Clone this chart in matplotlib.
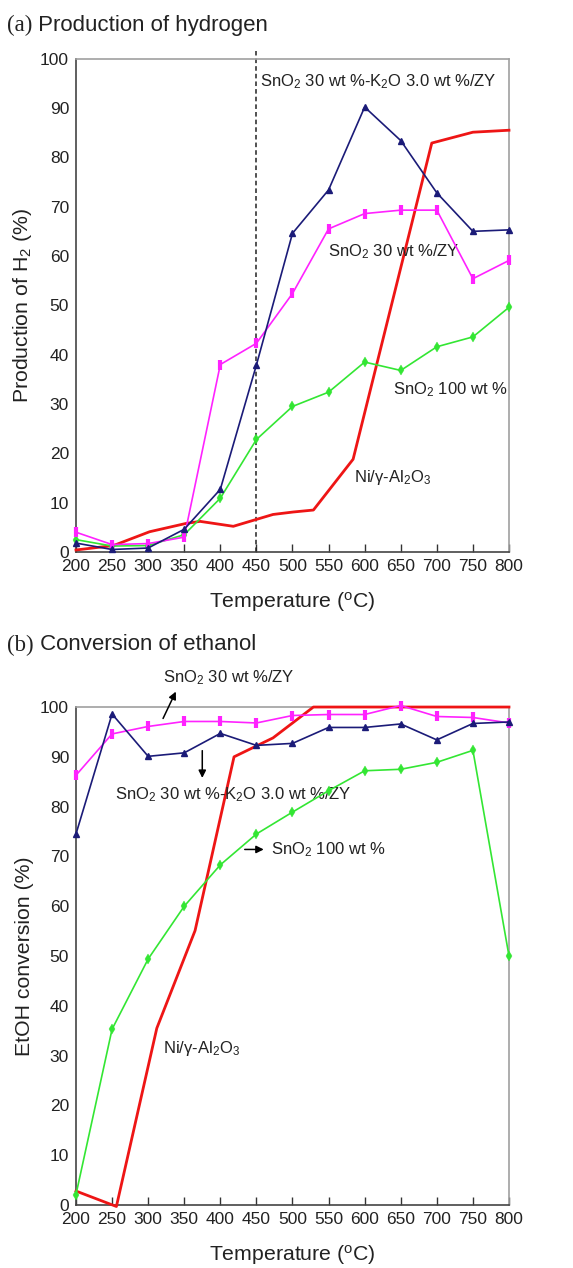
import numpy as np
import matplotlib
matplotlib.use("Agg")
import matplotlib.pyplot as plt

plt.rcParams['font.family'] = ['Liberation Sans', 'DejaVu Sans']
plt.rcParams['mathtext.fontset'] = 'custom'
plt.rcParams['mathtext.rm'] = 'Liberation Sans'
plt.rcParams['mathtext.it'] = 'Liberation Sans:italic'

temp = [200, 250, 300, 350, 400, 450, 500, 550, 600, 650, 700, 750, 800]

# (a) production of hydrogen
h2_k2o = [1.8, 0.5, 0.8, 4.6, 12.7, 37.9, 64.6, 73.4, 90.2, 83.4, 72.8, 65.0, 65.3]
h2_sno2_zy = [4.0, 1.5, 1.7, 3.0, 38.0, 42.3, 52.4, 65.5, 68.6, 69.3, 69.3, 55.4, 59.1]
h2_sno2 = [2.5, 1.2, 1.3, 3.5, 10.9, 22.8, 29.5, 32.4, 38.5, 36.8, 41.6, 43.6, 49.6]
ni_temp_a = [200, 252, 302, 353, 372, 418, 450, 473, 501, 529, 584, 693, 750, 800]
h2_ni = [0.4, 1.3, 4.1, 5.8, 6.2, 5.2, 6.6, 7.6, 8.1, 8.5, 18.8, 82.9, 85.1, 85.5]

# (b) conversion of ethanol
conv_k2o = [74.5, 98.6, 90.1, 90.8, 94.7, 92.3, 92.7, 95.9, 95.9, 96.6, 93.4, 96.7, 97.0]
conv_sno2_zy = [86.3, 94.6, 96.1, 97.1, 97.1, 96.8, 98.3, 98.5, 98.5, 100.3, 98.1, 97.9, 96.8]
conv_sno2 = [2.1, 35.3, 49.4, 60.0, 68.3, 74.5, 78.9, 83.2, 87.2, 87.5, 88.9, 91.3, 50.0]
ni_temp_b = [200, 256, 312, 365, 419, 473, 529, 800]
conv_ni = [2.8, -0.3, 35.5, 55.1, 90.0, 93.8, 100.0, 100.0]

NAVY = '#1b1b78'
MAGENTA = '#ff22ff'
GREEN = '#33e633'
RED = '#ee1515'

fig = plt.figure(figsize=(5.73, 12.68), dpi=100)
ax1 = fig.add_axes([0.1326, 0.5647, 0.7557, 0.389])
ax2 = fig.add_axes([0.1326, 0.0497, 0.7557, 0.3927])


def style(ax, ylabel):
    ax.set_xlim(200, 800)
    ax.set_ylim(0, 100)
    ax.set_xticks(np.arange(200, 801, 50))
    ax.set_yticks(np.arange(0, 101, 10))
    ax.tick_params(axis='x', direction='in', length=6, width=1, colors='#333333',
                   labelsize=12.5, pad=5, labelcolor='#222222')
    ax.tick_params(axis='y', direction='in', length=0, labelsize=12.5, pad=5,
                   labelcolor='#222222')
    for s in ['left', 'bottom']:
        ax.spines[s].set_color('#444444')
        ax.spines[s].set_linewidth(1.2)
    for s in ['top', 'right']:
        ax.spines[s].set_color('#a0a0a0')
        ax.spines[s].set_linewidth(1.2)
    ax.set_xlabel('Temperature ($^{\\rm o}$C)', fontsize=15.3, labelpad=11.5, color='#222222')
    ax.set_ylabel(ylabel, fontsize=15.3, labelpad=4.5, color='#222222')


def series(ax, k2o, zy, sno2, ni_t, ni):
    ax.plot(ni_t, ni, color=RED, lw=2.0, clip_on=False, zorder=3)
    ax.plot(temp, sno2, color=GREEN, lw=1.2, marker='d', ms=5, mew=0.3,
            mfc=GREEN, mec=GREEN, clip_on=False, zorder=4)
    ax.plot(temp, zy, color=MAGENTA, lw=1.2, marker='|', ms=7, mew=3.0,
            mec=MAGENTA, clip_on=False, zorder=5)
    ax.plot(temp, k2o, color=NAVY, lw=1.2, marker='^', ms=4.5, mfc=NAVY, mec=NAVY,
            clip_on=False, zorder=6)


def title(y, tag, text):
    t = fig.text(0.012, y, tag, family='Liberation Serif', fontsize=16.5,
                 va='center', color='#222222')
    ann = plt.annotate(' ' + text, xy=(1, 0.5), xycoords=t, va='center', ha='left',
                       fontsize=16, color='#222222', annotation_clip=False)
    return ann


# panel (a)
style(ax1, 'Production of H$_2$ (%)')
series(ax1, h2_k2o, h2_sno2_zy, h2_sno2, ni_temp_a, h2_ni)
ax1.plot([450, 450], [0, 101.5], color='#222222', lw=1.1, ls=(0, (3, 2)),
         clip_on=False, zorder=2)
ax1.text(455, 95.3, 'SnO$_2$ 30 wt %-K$_2$O 3.0 wt %/ZY', fontsize=12, va='center',
         color='#222222')
ax1.text(549, 60.8, 'SnO$_2$ 30 wt %/ZY', fontsize=12, va='center', color='#222222')
ax1.text(639, 32.9, 'SnO$_2$ 100 wt %', fontsize=12, va='center', color='#222222')
ax1.text(585, 15.0, 'Ni/γ-Al$_2$O$_3$', fontsize=12, va='center', color='#222222')
title(1 - 25 / 1268, '(a)', 'Production of hydrogen')

# panel (b)
style(ax2, 'EtOH conversion (%)')
series(ax2, conv_k2o, conv_sno2_zy, conv_sno2, ni_temp_b, conv_ni)
arrow = dict(arrowstyle='-|>', color='black', lw=1.1, mutation_scale=11)
ax2.text(320, 106.0, 'SnO$_2$ 30 wt %/ZY', fontsize=12, va='center', color='#222222')
ax2.annotate('', xy=(340, 103.6), xytext=(319, 97.2), arrowprops=arrow,
             annotation_clip=False)
ax2.text(254, 82.5, 'SnO$_2$ 30 wt %-K$_2$O 3.0 wt %/ZY', fontsize=12, va='center',
         color='#222222')
ax2.annotate('', xy=(375, 85.2), xytext=(375, 91.8), arrowprops=arrow)
ax2.text(470, 71.3, 'SnO$_2$ 100 wt %', fontsize=12, va='center', color='#222222')
ax2.annotate('', xy=(464, 71.4), xytext=(430, 71.4), arrowprops=arrow)
ax2.text(321, 31.5, 'Ni/γ-Al$_2$O$_3$', fontsize=12, va='center', color='#222222')
title(1 - 645 / 1268, '(b)', 'Conversion of ethanol')

fig.savefig('out.png', dpi=100)
